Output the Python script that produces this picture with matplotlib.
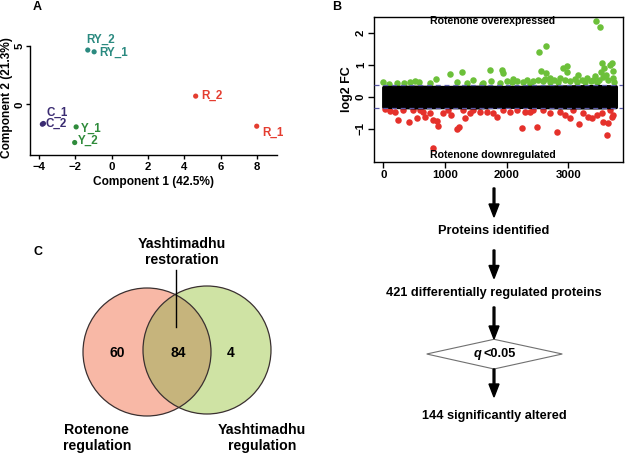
import matplotlib
matplotlib.use("Agg")
import matplotlib.pyplot as plt
from matplotlib.patches import Circle, Polygon, FancyArrow

plt.rcParams['font.family'] = ['Liberation Sans', 'DejaVu Sans']
plt.rcParams['font.weight'] = 'bold'

# ---------------- Data ----------------
# Panel A: PCA
pca_labels = ["RY_2", "RY_1", "R_2", "R_1", "C_1", "C_2", "Y_1", "Y_2"]
pca_x = [-1.32, -0.97, 4.62, 7.98, -3.76, -3.82, -1.96, -2.04]
pca_y = [4.63, 4.48, 0.71, -1.85, -1.62, -1.68, -1.91, -3.24]
pca_groups = ["RY", "RY", "R", "R", "C", "C", "Y", "Y"]
pct_comp1 = 42.5
pct_comp2 = 21.3

# Panel B: log2 fold change
green_x = [0, 97, 335, 432, 513, 584, 854, 1081, 1270, 1351, 1449, 1622, 1730, 1746,
           1919, 1935, 1892, 2000, 2097, 2162, 2259, 2378, 2421, 2530, 2638, 2551,
           2513, 2638, 2621, 2703, 2767, 2865, 2919, 2984, 2984, 2946, 3027, 3108,
           3162, 3216, 3297, 3362, 3432, 3443, 3513, 3502, 3524, 3540, 3578, 3610,
           3648, 3675, 3702, 3718, 3729, 3740, 3567, 3459, 3405, 3270, 3135, 2838,
           2703, 2594, 2324, 2081, 1189, 757, 216, 1594]
green_y = [0.45, 0.40, 0.43, 0.45, 0.48, 0.46, 0.54, 0.71, 0.76, 0.42, 0.51, 0.44, 0.82, 0.49,
           0.83, 0.73, 0.44, 0.50, 0.54, 0.49, 0.45, 0.40, 0.49, 1.41, 1.60, 0.81,
           0.52, 0.75, 0.54, 0.60, 0.52, 0.60, 0.89, 0.96, 0.78, 0.52, 0.49, 0.56,
           0.67, 0.52, 0.57, 0.50, 0.65, 2.38, 2.17, 0.52, 0.78, 1.06, 0.89, 0.68,
           0.52, 0.99, 1.06, 0.81, 0.60, 0.46, 0.62, 0.47, 0.52, 0.46, 0.47, 0.46,
           0.46, 0.48, 0.52, 0.46, 0.47, 0.42, 0.42, 0.40]
red_x = [27, 108, 243, 313, 421, 486, 551, 649, 757, 811, 876, 881, 801, 973, 1054, 1092,
         1189, 1232, 1297, 1324, 1405, 1459, 1676, 1784, 1838, 1946, 2054, 2162, 2243,
         2297, 2378, 2486, 2594, 2703, 2811, 2865, 2946, 3027, 3081, 3178, 3243, 3324,
         3378, 3459, 3540, 3567, 3621, 3648, 3702, 3729, 3675, 2432, 1568, 676, 189, 595]
red_y = [-0.38, -0.45, -0.73, -0.42, -0.78, -0.42, -0.65, -0.47, -0.52, -0.73, -0.75, -0.92,
         -1.59, -0.52, -0.42, -0.57, -1.02, -0.94, -0.42, -0.68, -0.52, -0.42, -0.47, -0.52,
         -0.63, -0.42, -0.47, -0.42, -0.97, -0.47, -0.47, -0.96, -0.42, -0.52, -1.09, -0.47,
         -0.57, -0.68, -0.42, -0.85, -0.52, -0.63, -0.68, -0.57, -0.52, -0.78, -1.20, -0.81,
         -0.63, -0.57, -0.42, -0.42, -0.47, -0.63, -0.47, -0.42]
band_x = [0, 500, 1000, 1500, 2000, 2500, 3000, 3500, 3770]
band_hi = [0.30, 0.31, 0.30, 0.31, 0.30, 0.31, 0.32, 0.33, 0.32]
band_lo = [-0.31, -0.33, -0.32, -0.33, -0.31, -0.32, -0.33, -0.33, -0.32]
fc_cutoff = 0.36

# Panel C: Venn counts
venn_counts = [60, 84, 4]
venn_labels = ["Rotenone\nregulation", "Yashtimadhu\nrestoration", "Yashtimadhu\nregulation"]

# Flowchart
flow_steps = ["Proteins identified", "421 differentially regulated proteins",
              "144 significantly altered"]
flow_filter = ("q", "<0.05")

# ---------------- Figure ----------------
W, H = 625, 454
fig = plt.figure(figsize=(W / 100, H / 100), dpi=100)


def fig_rect(left, top, right, bottom):
    return [left / W, 1 - bottom / H, (right - left) / W, (bottom - top) / H]


# ---- Panel A ----
colors = {"RY": "#2b8a80", "R": "#e43d30", "C": "#3b2c72", "Y": "#2f8b3b"}
axA = fig.add_axes(fig_rect(30, 45.7, 276.7, 155))
axA.set_xlim(-4.5, 9.08)
axA.set_ylim(-4.3, 5.0)
for s in ["top", "right"]:
    axA.spines[s].set_visible(False)
for s in ["left", "bottom"]:
    axA.spines[s].set_linewidth(1.0)
axA.scatter(pca_x, pca_y, c=[colors[g] for g in pca_groups], s=14, zorder=3,
            clip_on=False, linewidths=0)
offsets = {"RY_2": (-1, 3, "left", "bottom"), "RY_1": (4, -1, "left", "center"),
           "R_2": (4, 0, "left", "center"), "R_1": (4, -5, "left", "center"),
           "C_1": (2.5, 8, "left", "center"), "C_2": (2.5, 0, "left", "center"),
           "Y_1": (3.5, -1, "left", "center"), "Y_2": (2, 1, "left", "center")}
for lab, x, y, g in zip(pca_labels, pca_x, pca_y, pca_groups):
    dx, dy, ha, va = offsets[lab]
    axA.annotate(lab, (x, y), xytext=(dx, dy), textcoords="offset points",
                 ha=ha, va=va, color=colors[g], fontsize=8.4, fontweight="bold",
                 annotation_clip=False)
axA.set_xticks([-4, -2, 0, 2, 4, 6, 8])
axA.set_yticks([0, 5])
axA.tick_params(axis="x", direction="out", length=3, width=1, labelsize=8.2, pad=2)
axA.tick_params(axis="y", direction="out", length=3, width=1, labelsize=8.2, pad=1)
plt.setp(axA.get_yticklabels(), rotation=90, va="center")
axA.set_xlabel(f"Component 1 ({pct_comp1}%)", fontsize=8.6, fontweight="bold", labelpad=3)
axA.set_ylabel(f"Component 2 ({pct_comp2}%)", fontsize=8.6, fontweight="bold")
axA.yaxis.set_label_coords(-0.068, 0.53)

# ---- Panel B ----
axB = fig.add_axes(fig_rect(374.3, 16.7, 623.3, 161.7))
axB.set_xlim(-146, 3892)
axB.set_ylim(-2.03, 2.5)
axB.scatter(green_x, green_y, s=22, color="#6cc03a", linewidths=0, zorder=2)
axB.scatter(red_x, red_y, s=22, color="#e5312b", linewidths=0, zorder=2)
axB.fill_between(band_x, band_lo, band_hi, color="black", zorder=3, linewidth=2.5,
                 edgecolor="black")
for yv in (fc_cutoff, -fc_cutoff):
    axB.axhline(yv, color="#5a5aa8", lw=0.9, ls=(0, (4, 3)), zorder=4)
axB.text(1779, 2.375, "Rotenone overexpressed", ha="center", va="center",
         fontsize=7.6, fontweight="bold")
axB.text(1779, -1.82, "Rotenone downregulated", ha="center", va="center",
         fontsize=7.6, fontweight="bold")
axB.set_xticks([0, 1000, 2000, 3000])
axB.set_yticks([-1, 0, 1, 2])
axB.tick_params(axis="both", direction="out", length=4, width=1, labelsize=8.2, pad=2)
plt.setp(axB.get_yticklabels(), rotation=90, va="center")
axB.set_ylabel("log2 FC", fontsize=9, fontweight="bold", labelpad=2)
for s in axB.spines.values():
    s.set_linewidth(1.0)

# ---- Overlay (pixel coordinates) ----
ov = fig.add_axes([0, 0, 1, 1])
ov.set_xlim(0, W)
ov.set_ylim(H, 0)
ov.axis("off")
ov.patch.set_alpha(0)

for lab, (x, y) in zip("ABC", [(37, 7), (337, 7), (38, 252)]):
    ov.text(x, y, lab, fontsize=9, fontweight="bold", ha="center", va="center")

# Venn
cL = (147, 352)
cR = (207, 350)
r = 64
ov.add_patch(Circle(cL, r, facecolor="#f8b8a6", edgecolor="none", zorder=1))
ov.add_patch(Circle(cR, r, facecolor="#cfe3a4", edgecolor="none", zorder=1))
inter = Circle(cR, r, facecolor="#c6b47c", edgecolor="none", zorder=2)
ov.add_patch(inter)
clipc = Circle(cL, r, transform=ov.transData)
inter.set_clip_path(clipc)
ov.add_patch(Circle(cL, r, facecolor="none", edgecolor="#3a3030", lw=0.9, zorder=3))
ov.add_patch(Circle(cR, r, facecolor="none", edgecolor="#3a3030", lw=0.9, zorder=3))
for x, v in zip([117.7, 178, 231], venn_counts):
    ov.text(x, 353, str(v), ha="center", va="center", fontsize=10, fontweight="bold", zorder=5)
ov.plot([176.3, 176.3], [270, 327], color="black", lw=1.0, zorder=4)
ov.text(181.7, 252, venn_labels[1], ha="center", va="center", fontsize=10.2,
        fontweight="bold", linespacing=1.2)
ov.text(96.7, 438, venn_labels[0], ha="center", va="center", fontsize=10.2,
        fontweight="bold", linespacing=1.2)
ov.text(261.7, 438, venn_labels[2], ha="center", va="center", fontsize=10.2,
        fontweight="bold", linespacing=1.2)

# Flowchart
fx = 494


def arrow(y0, y1):
    ov.add_patch(FancyArrow(fx, y0, 0, y1 - y0, width=1.8, head_width=10, head_length=13,
                            length_includes_head=True, color="black", zorder=4))


arrow(188, 217)
ov.text(fx, 231, flow_steps[0], ha="center", va="center", fontsize=9.2, fontweight="bold")
arrow(250, 278.5)
ov.text(fx, 293.3, flow_steps[1], ha="center", va="center", fontsize=9.2, fontweight="bold")
arrow(307, 339)
ov.add_patch(Polygon([(426.7, 354), (fx, 339.3), (562.3, 354), (fx, 369)], closed=True,
                     facecolor="white", edgecolor="#707070", lw=0.8, zorder=3))
ov.text(481, 354, flow_filter[0], ha="right", va="center", fontsize=9.2,
        fontweight="bold", fontstyle="italic", zorder=5)
ov.text(484, 354, flow_filter[1], ha="left", va="center", fontsize=9.2,
        fontweight="bold", zorder=5)
arrow(369, 397)
ov.text(fx, 416, flow_steps[2], ha="center", va="center", fontsize=9.2, fontweight="bold")

fig.savefig("out.png", dpi=100)
